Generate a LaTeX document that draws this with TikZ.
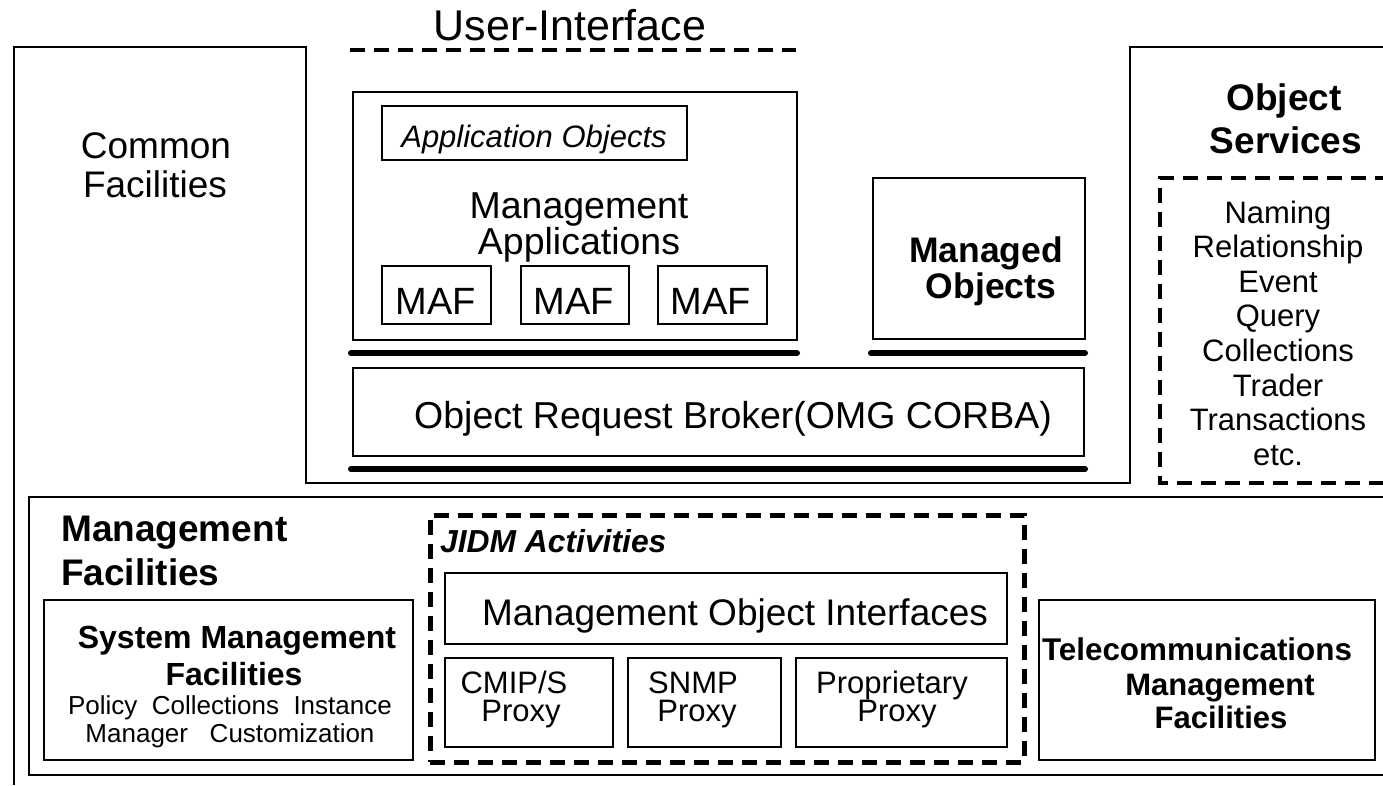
\documentclass[tikz,border=0pt]{standalone}
\usepackage{fontspec}
\setmainfont{Liberation Sans}
\newcommand{\setfs}[1]{\fontsize{#1}{#1}\selectfont}
\begin{document}
\begin{tikzpicture}[x=1pt,y=-1pt,
  box/.style={draw, line width=1.8pt, inner sep=0pt, anchor=north west},
  dashbox/.style={draw, line width=4.5pt, dash pattern=on 15pt off 9pt, inner sep=0pt, anchor=north west},
  dashline/.style={line width=4.5pt, dash pattern=on 15pt off 9pt},
  frame/.style={line width=1.8pt},
  bar/.style={line width=6pt, line cap=round},
  lbl/.style={inner sep=0pt, anchor=base},
  lblw/.style={inner sep=0pt, anchor=base west}
]
\useasboundingbox (0,0) rectangle (1383,785);

% outer frames
\coordinate (f1) at (14,785);
\coordinate (f2) at (14,47);
\coordinate (f3) at (306,47);
\coordinate (f4) at (306,483);
\coordinate (f5) at (1130,483);
\coordinate (f6) at (1130,47);
\coordinate (f7) at (1390,47);
\draw[frame] (f1) -- (f2) -- (f3) -- (f4) -- (f5) -- (f6) -- (f7);

\coordinate (m1) at (1390,497);
\coordinate (m2) at (29,497);
\coordinate (m3) at (29,775);
\coordinate (m4) at (1390,775);
\draw[frame] (m1) -- (m2) -- (m3) -- (m4);

% User-Interface
\node[lbl] (ui) at (570,40) {\setfs{43}User-Interface};
\coordinate (uil) at (350,50);
\coordinate (uir) at (796,50);
\draw[dashline] (uil) -- (uir);

% Common Facilities
\node[lbl] (cf1) at (156,158) {\setfs{37}Common};
\node[lbl] (cf2) at (155,197) {\setfs{37}Facilities};

% Management Applications
\node[box, minimum width=444pt, minimum height=248pt] (mapp) at (352,91) {};
\node[box, minimum width=305pt, minimum height=54pt] (appobj) at (381,105) {};
\node[lbl] (appobjt) at (534,147) {\setfs{31}\itshape Application Objects};
\node[lbl] (ma1) at (579,218) {\setfs{37.5}Management};
\node[lbl] (ma2) at (579,254) {\setfs{37.5}Applications};
\node[box, minimum width=109pt, minimum height=58pt] (maf1) at (381,265) {};
\node[box, minimum width=108pt, minimum height=58pt] (maf2) at (520,265) {};
\node[box, minimum width=109pt, minimum height=58pt] (maf3) at (657,265) {};
\node[lbl] (maf1t) at (436,314) {\setfs{38}MAF};
\node[lbl] (maf2t) at (574,314) {\setfs{38}MAF};
\node[lbl] (maf3t) at (711,314) {\setfs{38}MAF};

% Managed Objects
\node[box, minimum width=212pt, minimum height=161pt] (mo) at (872,177) {};
\node[lbl] (mo1) at (986,262) {\setfs{35.5}\bfseries Managed};
\node[lbl] (mo2) at (991,298) {\setfs{35.5}\bfseries Objects};

% bars and ORB
\coordinate (b1l) at (351,353);
\coordinate (b1r) at (797,353);
\coordinate (b2l) at (871,353);
\coordinate (b2r) at (1085,353);
\coordinate (b3l) at (351,469);
\coordinate (b3r) at (1085,469);
\draw[bar] (b1l) -- (b1r);
\draw[bar] (b2l) -- (b2r);
\draw[bar] (b3l) -- (b3r);
\node[box, minimum width=731pt, minimum height=88pt] (orb) at (352,367) {};
\node[lbl] (orbt) at (733,428) {\setfs{37.5}Object Request Broker(OMG CORBA)};

% Object Services
\node[lbl] (os1) at (1284,110) {\setfs{37}\bfseries Object};
\node[lbl] (os2) at (1286,153) {\setfs{37}\bfseries Services};
\coordinate (d1) at (1390,178);
\coordinate (d2) at (1160,178);
\coordinate (d3) at (1160,483);
\coordinate (d4) at (1390,483);
\draw[dashline] (d1) -- (d2) -- (d3) -- (d4);
\node[lbl] (s1) at (1278,223.0) {\setfs{31}Naming};
\node[lbl] (s2) at (1278,257.6) {\setfs{31}Relationship};
\node[lbl] (s3) at (1278,292.2) {\setfs{31}Event};
\node[lbl] (s4) at (1278,326.8) {\setfs{31}Query};
\node[lbl] (s5) at (1278,361.4) {\setfs{31}Collections};
\node[lbl] (s6) at (1278,396.0) {\setfs{31}Trader};
\node[lbl] (s7) at (1278,430.6) {\setfs{31}Transactions};
\node[lbl] (s8) at (1278,465.2) {\setfs{31}etc.};

% Management Facilities
\node[lblw] (mf1) at (61,541) {\setfs{37}\bfseries Management};
\node[lblw] (mf2) at (61,585) {\setfs{37}\bfseries Facilities};

% System Management Facilities
\node[box, minimum width=369pt, minimum height=160pt] (smf) at (43,599) {};
\node[lbl] (smf1) at (237,648) {\setfs{32}\bfseries System Management};
\node[lbl] (smf2) at (234,685) {\setfs{32}\bfseries Facilities};
\node[lbl] (smf3) at (230,714) {\setfs{26}Policy\ \ Collections\ \ Instance};
\node[lbl] (smf4) at (230,742) {\setfs{26}Manager\ \ \ Customization};

% JIDM Activities
\node[dashbox, minimum width=594pt, minimum height=247pt] (jidm) at (428,513) {};
\node[lblw] (jidmt) at (440,552) {\setfs{31.8}\bfseries\itshape JIDM Activities};
\node[box, minimum width=562pt, minimum height=71pt] (moi) at (444,572) {};
\node[lbl] (moit) at (735,625) {\setfs{37}Management Object Interfaces};
\node[box, minimum width=168pt, minimum height=89pt] (cmip) at (444,657) {};
\node[box, minimum width=153pt, minimum height=89pt] (snmp) at (627,657) {};
\node[box, minimum width=211pt, minimum height=89pt] (prop) at (795,657) {};
\node[lbl] (cmip1) at (514,693) {\setfs{31}CMIP/S};
\node[lbl] (cmip2) at (521,721) {\setfs{31}Proxy};
\node[lbl] (snmp1) at (693,693) {\setfs{31}SNMP};
\node[lbl] (snmp2) at (697,721) {\setfs{31}Proxy};
\node[lbl] (prop1) at (892,693) {\setfs{31}Proprietary};
\node[lbl] (prop2) at (897,721) {\setfs{31}Proxy};

% Telecommunications Management Facilities
\node[box, minimum width=336pt, minimum height=160pt] (tmf) at (1038,599) {};
\node[lbl] (tmf1) at (1197,660) {\setfs{31.4}\bfseries Telecommunications};
\node[lbl] (tmf2) at (1220,695) {\setfs{31}\bfseries Management};
\node[lbl] (tmf3) at (1221,728) {\setfs{31}\bfseries Facilities};
\end{tikzpicture}
\end{document}
